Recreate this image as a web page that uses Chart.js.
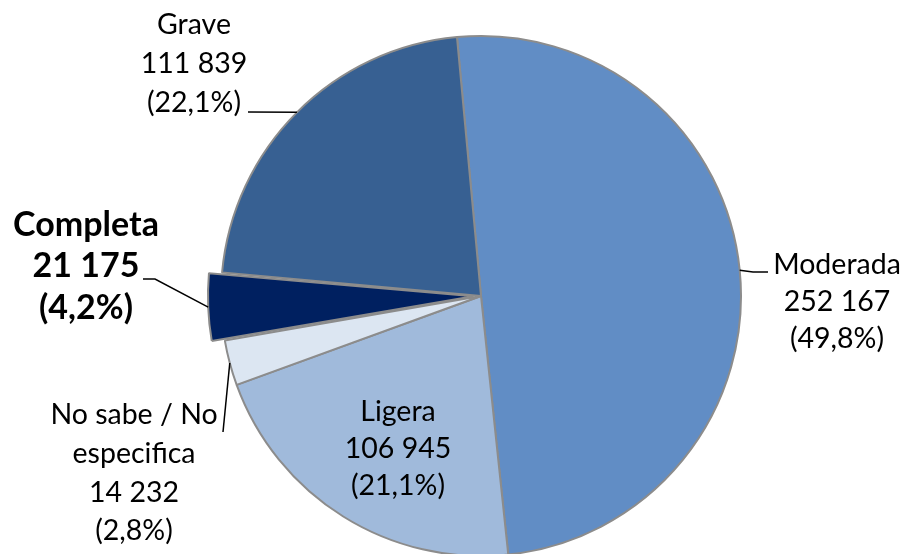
<!DOCTYPE html>
<html>
<head>
<meta charset="utf-8">
<script src="https://cdn.jsdelivr.net/npm/chart.js@4"></script>
<style>
html,body{margin:0;padding:0;background:#fff;}
#wrap{width:907px;height:554px;position:relative;}
</style>
</head>
<body>
<div id="wrap"><canvas id="c"></canvas></div>
<script>
// ---- data ----
const categories = ['Moderada', 'Ligera', 'No sabe / No especifica', 'Completa', 'Grave'];
const values = [252167, 106945, 14232, 21175, 111839];
const highlighted = ['Completa'];

// ---- styling / layout (not data) ----
const colors = ['#618DC5', '#A0BADB', '#DCE6F2', '#002060', '#376092'];
const labelLayout = {
  'Moderada': {x: 837, y: 265, lh: 37, lead: [[753, 272], [768, 272]]},
  'Ligera': {x: 398, y: 412, lh: 37, lead: null},
  'No sabe / No especifica': {x: 134, y: 415, lh: 38.7, lead: [[223, 432]]},
  'Completa': {x: 86, y: 225, lh: 41.5, lead: [[155, 279], [143, 279]]},
  'Grave': {x: 194, y: 25, lh: 39, lead: [[248, 112]]}
};
const FONT = 'Lato, "Noto Sans", sans-serif';

function fmtNum(v) { return String(v).replace(/\B(?=(\d{3})+(?!\d))/g, ' '); }
const total = values.reduce((a, b) => a + b, 0);
function fmtPct(v) { return '(' + (v / total * 100).toFixed(1).replace('.', ',') + '%)'; }

const labelPlugin = {
  id: 'pieLabels',
  afterDatasetsDraw(chart) {
    const ctx = chart.ctx;
    const meta = chart.getDatasetMeta(0);
    meta.data.forEach((el, i) => {
      const name = categories[i];
      const lay = labelLayout[name];
      const bold = highlighted.includes(name);
      const fontSize = bold ? 34 : 28.5;
      ctx.save();
      ctx.font = (bold ? 'bold ' : '') + fontSize + 'px ' + FONT;
      ctx.fillStyle = '#000';
      ctx.textAlign = 'center';
      ctx.textBaseline = 'middle';
      // word wrap
      const words = name.split(' ');
      const lines = [];
      let cur = '';
      words.forEach(w => {
        const t = cur ? cur + ' ' + w : w;
        if (cur && ctx.measureText(t).width > 190) { lines.push(cur); cur = w; }
        else cur = t;
      });
      lines.push(cur);
      lines.push(fmtNum(values[i]));
      lines.push(fmtPct(values[i]));
      lines.forEach((ln, k) => ctx.fillText(ln, lay.x, lay.y + k * lay.lh));
      // leader line from the slice's outer edge (follows Chart.js arc offset geometry)
      if (lay.lead) {
        const p = el.getProps(['x', 'y', 'startAngle', 'endAngle', 'outerRadius'], true);
        const offT = (el.options.offset || 0) / 4;
        const fix = 1 - Math.sin(Math.min(Math.PI, p.endAngle - p.startAngle));
        const mid = (p.startAngle + p.endAngle) / 2;
        const reach = offT + p.outerRadius + offT * fix;
        const sx = p.x + Math.cos(mid) * reach;
        const sy = p.y + Math.sin(mid) * reach;
        ctx.beginPath();
        ctx.moveTo(sx, sy);
        lay.lead.forEach(pt => ctx.lineTo(pt[0], pt[1]));
        ctx.strokeStyle = '#000';
        ctx.lineWidth = 1.5;
        ctx.stroke();
      }
      ctx.restore();
    });
  }
};

new Chart(document.getElementById('c'), {
  type: 'pie',
  data: {
    labels: categories,
    datasets: [{
      data: values,
      backgroundColor: colors,
      borderColor: '#8C8C8C',
      borderWidth: 2,
      offset: categories.map(c => highlighted.includes(c) ? 30 : 0),
      clip: false
    }]
  },
  options: {
    responsive: true,
    maintainAspectRatio: false,
    animation: false,
    rotation: -5.3,
    radius: 260,
    layout: {padding: {left: 55, right: 0, top: 38, bottom: 0}},
    plugins: {legend: {display: false}, tooltip: {enabled: false}}
  },
  plugins: [labelPlugin]
});
</script>
</body>
</html>
